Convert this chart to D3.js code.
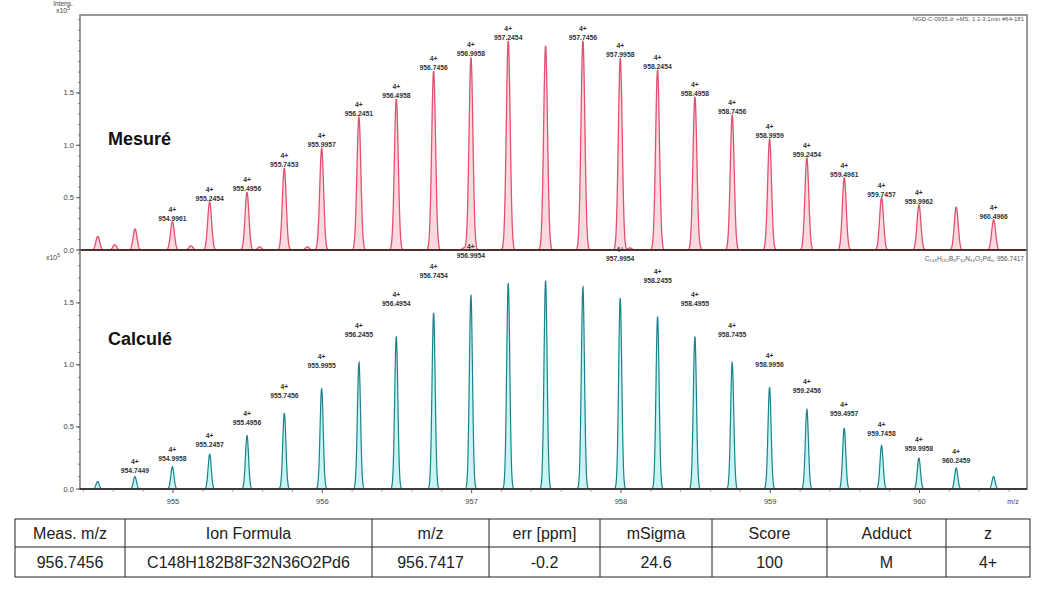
<!DOCTYPE html>
<html>
<head>
<meta charset="utf-8">
<script src="https://cdn.jsdelivr.net/npm/d3@7"></script>
<style>
  html, body { margin: 0; padding: 0; background: #fff; }
  svg { display: block; }
</style>
</head>
<body>
<svg id="chart" width="1045" height="592"></svg>
<script>
// ---------- DATA ----------
const measuredMz = [954.4960, 954.7460, 954.9961, 955.2454, 955.4956, 955.7453, 955.9957, 956.2451, 956.4958, 956.7456, 956.9958, 957.2454, 957.4955, 957.7456, 957.9958, 958.2454, 958.4958, 958.7456, 958.9959, 959.2454, 959.4961, 959.7457, 959.9962, 960.2460, 960.4966];
const measuredInt = [0.13, 0.20, 0.27, 0.46, 0.55, 0.78, 0.97, 1.27, 1.44, 1.71, 1.84, 2.00, 1.95, 2.00, 1.83, 1.72, 1.46, 1.29, 1.06, 0.88, 0.69, 0.50, 0.43, 0.41, 0.29];
const measuredLabeled = [false, false, true, true, true, true, true, true, true, true, true, true, false, true, true, true, true, true, true, true, true, true, true, false, true];
const noiseMz = [954.61, 955.12, 955.58, 955.90, 956.95, 958.06, 958.52];
const noiseInt = [0.05, 0.04, 0.03, 0.03, 0.02, 0.02, 0.015];

const calcMz = [954.4950, 954.7449, 954.9958, 955.2457, 955.4956, 955.7456, 955.9955, 956.2455, 956.4954, 956.7454, 956.9954, 957.2454, 957.4954, 957.7454, 957.9954, 958.2455, 958.4955, 958.7455, 958.9956, 959.2456, 959.4957, 959.7458, 959.9958, 960.2459, 960.4960];
const calcInt = [0.06, 0.10, 0.18, 0.28, 0.43, 0.61, 0.81, 1.02, 1.23, 1.42, 1.56, 1.66, 1.68, 1.63, 1.54, 1.39, 1.23, 1.02, 0.82, 0.64, 0.49, 0.35, 0.25, 0.17, 0.10];
const calcLabeled = [false, true, true, true, true, true, true, true, true, true, true, false, false, false, true, true, true, true, true, true, true, true, true, true, false];

const chargeLabel = "4+";
const xTicks = [955, 956, 957, 958, 959, 960];
const yTicks = [0.0, 0.5, 1.0, 1.5];
const panelTitles = ["Mesuré", "Calculé"];
const topNote = "NGD-C-0935.d: +MS, 1.1-3.1min #64-181";
const bottomNote = "C₁₄₈H₁₈₂B₈F₃₂N₃₆O₂Pd₆, 956.7417";

const tableHeaders = ["Meas. m/z", "Ion Formula", "m/z", "err [ppm]", "mSigma", "Score", "Adduct", "z"];
const tableRow = ["956.7456", "C148H182B8F32N36O2Pd6", "956.7417", "-0.2", "24.6", "100", "M", "4+"];

// ---------- LAYOUT ----------
const svg = d3.select("#chart");
const L = 80, R = 1027, T = 15, MID = 250, B = 489;

const x = d3.scaleLinear().domain([954.377, 960.72]).range([L, R]);
const yTop = d3.scaleLinear().domain([0, 2.245]).range([MID, T]);
const yBot = d3.scaleLinear().domain([0, 1.91]).range([B, MID + 2]);

function profile(mzs, ints, sigma, extraMz, extraInt) {
  const pts = [];
  const [d0, d1] = x.domain();
  const all = mzs.map((m, i) => [m, ints[i]]);
  if (extraMz) extraMz.forEach((m, i) => all.push([m, extraInt[i]]));
  for (let v = d0; v <= d1 + 1e-9; v += 0.0015) {
    let s = 0;
    for (const [m, h] of all) {
      const d = (v - m) / sigma;
      if (Math.abs(d) < 5) s += h * Math.exp(-0.5 * d * d);
    }
    pts.push([v, s]);
  }
  return pts;
}

// ---------- TOP PANEL (measured) ----------
const topPts = profile(measuredMz, measuredInt, 0.013, noiseMz, noiseInt);
svg.append("path")
  .datum(topPts)
  .attr("d", d3.area().x(d => x(d[0])).y0(yTop(0)).y1(d => yTop(d[1])))
  .attr("fill", "#f7b9c6").attr("fill-opacity", 0.55);
svg.append("path")
  .datum(topPts)
  .attr("d", d3.line().x(d => x(d[0])).y(d => yTop(d[1])))
  .attr("fill", "none").attr("stroke", "#e2506e").attr("stroke-width", 1.3);
// dark baseline
svg.append("line")
  .attr("x1", L).attr("x2", R).attr("y1", yTop(0)).attr("y2", yTop(0))
  .attr("stroke", "#4e2f30").attr("stroke-width", 2.2);

// ---------- BOTTOM PANEL (calculated) ----------
const botPts = profile(calcMz, calcInt, 0.0105);
svg.append("path")
  .datum(botPts)
  .attr("d", d3.area().x(d => x(d[0])).y0(yBot(0)).y1(d => yBot(d[1])))
  .attr("fill", "#a7ecec").attr("fill-opacity", 0.6);
svg.append("path")
  .datum(botPts)
  .attr("d", d3.line().x(d => x(d[0])).y(d => yBot(d[1])))
  .attr("fill", "none").attr("stroke", "#16848a").attr("stroke-width", 1.2);

// ---------- FRAME ----------
svg.append("rect")
  .attr("x", L).attr("y", T).attr("width", R - L).attr("height", B - T)
  .attr("fill", "none").attr("stroke", "#777").attr("stroke-width", 1.5);
svg.append("line")
  .attr("x1", L).attr("x2", R).attr("y1", B).attr("y2", B)
  .attr("stroke", "#222").attr("stroke-width", 1.3);

// ---------- AXES ----------
const tickFont = "Liberation Sans, Arial, sans-serif";
function yAxis(scale, maxV) {
  const g = svg.append("g").attr("transform", `translate(${L},0)`);
  const minor = d3.range(0, maxV + 1e-9, 0.1);
  g.selectAll("line.minor").data(minor).enter().append("line")
    .attr("x1", -2).attr("x2", 0).attr("y1", d => scale(d)).attr("y2", d => scale(d))
    .attr("stroke", "#666").attr("stroke-width", 0.8);
  g.selectAll("line.major").data(yTicks).enter().append("line")
    .attr("x1", -4).attr("x2", 0).attr("y1", d => scale(d)).attr("y2", d => scale(d))
    .attr("stroke", "#555").attr("stroke-width", 1);
  g.selectAll("text").data(yTicks).enter().append("text")
    .attr("x", -6).attr("y", d => scale(d) + 2.5)
    .attr("text-anchor", "end")
    .attr("font-family", tickFont).attr("font-size", 7.5).attr("fill", "#444")
    .text(d => d3.format(".1f")(d));
}
yAxis(yTop, 2.2);
yAxis(yBot, 1.9);

// x axis
const xg = svg.append("g");
const xMinor = d3.range(954.4, 960.7, 0.2).filter(v => Math.abs(v - Math.round(v)) > 0.05);
xg.selectAll("line.minor").data(xMinor).enter().append("line")
  .attr("x1", d => x(d)).attr("x2", d => x(d)).attr("y1", B).attr("y2", B + 2.5)
  .attr("stroke", "#666").attr("stroke-width", 0.8);
xg.selectAll("line.major").data(xTicks).enter().append("line")
  .attr("x1", d => x(d)).attr("x2", d => x(d)).attr("y1", B).attr("y2", B + 4)
  .attr("stroke", "#555").attr("stroke-width", 1);
xg.selectAll("text").data(xTicks).enter().append("text")
  .attr("x", d => x(d)).attr("y", B + 15)
  .attr("text-anchor", "middle")
  .attr("font-family", tickFont).attr("font-size", 7.5).attr("fill", "#444")
  .text(d => d);
xg.append("text").attr("x", 1013).attr("y", B + 15).attr("text-anchor", "middle")
  .attr("font-family", tickFont).attr("font-size", 7).attr("fill", "#444").text("m/z");

// axis units
function unitLabel(ux, yy, withIntens) {
  const g = svg.append("g").attr("font-family", tickFont).attr("fill", "#444");
  if (withIntens) {
    g.append("text").attr("x", ux).attr("y", yy - 7).attr("text-anchor", "middle")
      .attr("font-size", 6.5).text("Intens.");
  }
  const t = g.append("text").attr("x", ux).attr("y", yy).attr("text-anchor", "middle").attr("font-size", 7);
  t.append("tspan").text("x10");
  t.append("tspan").attr("dy", -3).attr("font-size", 5).text("5");
}
unitLabel(63, 13, true);
unitLabel(53, MID + 10, false);

// ---------- PEAK LABELS ----------
const lblFont = "Liberation Sans, Arial, sans-serif";
function peakLabels(mzs, ints, flags, yFn) {
  const g = svg.append("g").attr("font-family", lblFont).attr("font-size", 6.8)
    .attr("font-weight", "bold").attr("fill", "#333").attr("text-anchor", "middle");
  mzs.forEach((m, i) => {
    if (!flags[i]) return;
    const yy = yFn(ints[i]);
    g.append("text").attr("x", x(m)).attr("y", yy).text(m.toFixed(4));
    g.append("text").attr("x", x(m)).attr("y", yy - 9).text(chargeLabel);
  });
}
peakLabels(measuredMz, measuredInt, measuredLabeled, v => yTop(v) - 1);
peakLabels(calcMz, calcInt, calcLabeled, v => yBot(v * 1.19) - 1);

// ---------- PANEL TITLES & NOTES ----------
svg.append("text").attr("x", 108).attr("y", 145)
  .attr("font-family", "Liberation Sans, Arial, sans-serif").attr("font-weight", "bold")
  .attr("font-size", 18).attr("fill", "#111").text(panelTitles[0]);
svg.append("text").attr("x", 108).attr("y", 345)
  .attr("font-family", "Liberation Sans, Arial, sans-serif").attr("font-weight", "bold")
  .attr("font-size", 18).attr("fill", "#111").text(panelTitles[1]);

svg.append("text").attr("x", 1024).attr("y", 21).attr("text-anchor", "end")
  .attr("font-family", tickFont).attr("font-size", 6).attr("fill", "#555").text(topNote);
svg.append("text").attr("x", 1024).attr("y", MID + 11).attr("text-anchor", "end")
  .attr("font-family", tickFont).attr("font-size", 6.5).attr("fill", "#555").text(bottomNote);

// ---------- TABLE ----------
const colEdges = [15, 125, 372, 489, 600, 712, 827, 946, 1030];
const rowEdges = [519, 547, 577];
const tg = svg.append("g");
tg.append("rect").attr("x", colEdges[0]).attr("y", rowEdges[0])
  .attr("width", colEdges[colEdges.length - 1] - colEdges[0])
  .attr("height", rowEdges[2] - rowEdges[0])
  .attr("fill", "none").attr("stroke", "#222").attr("stroke-width", 1);
tg.append("line").attr("x1", colEdges[0]).attr("x2", colEdges[colEdges.length - 1])
  .attr("y1", rowEdges[1]).attr("y2", rowEdges[1]).attr("stroke", "#222").attr("stroke-width", 1);
tg.selectAll("line.col").data(colEdges.slice(1, -1)).enter().append("line")
  .attr("x1", d => d).attr("x2", d => d).attr("y1", rowEdges[0]).attr("y2", rowEdges[2])
  .attr("stroke", "#222").attr("stroke-width", 1);
[tableHeaders, tableRow].forEach((row, r) => {
  tg.selectAll(null).data(row).enter().append("text")
    .attr("x", (d, i) => (colEdges[i] + colEdges[i + 1]) / 2)
    .attr("y", (rowEdges[r] + rowEdges[r + 1]) / 2 + 5.5)
    .attr("text-anchor", "middle")
    .attr("font-family", "Liberation Sans Narrow, Liberation Sans, Arial, sans-serif")
    .attr("font-size", 16).attr("fill", "#222")
    .text(d => d);
});
</script>
</body>
</html>
